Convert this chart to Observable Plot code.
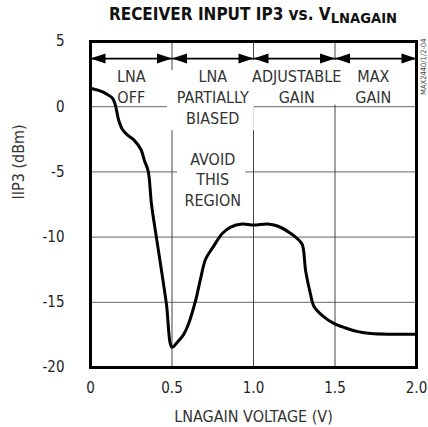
<!DOCTYPE html>
<html>
<head>
<meta charset="utf-8">
<script src="https://cdn.jsdelivr.net/npm/d3@7"></script>
<script src="https://cdn.jsdelivr.net/npm/@observablehq/plot@0.6"></script>
<style>
  html, body { margin: 0; padding: 0; background: white; }
  #wrap { width: 428px; height: 427px; position: relative; overflow: hidden; }
  #title {
    box-sizing: border-box; width: 428px; height: 28px;
    padding: 4px 12px 0 90px; text-align: center; white-space: nowrap;
    font-family: "Liberation Sans Narrow", "Arial Narrow", "DejaVu Sans Condensed", sans-serif;
    font-weight: bold; font-size: 17px; line-height: 20px; color: #111;
  }
  #title .sub { font-size: 0.86em; position: relative; top: 3px; }
  svg { display: block; }
</style>
</head>
<body>
<div id="wrap">
  <div id="title">RECEIVER INPUT IP3 vs. V<span class="sub">LNAGAIN</span></div>
  <div id="chart"></div>
</div>
<script>
// ---- data ----
const voltage = [0, 0.05, 0.095, 0.135, 0.153, 0.172, 0.196, 0.23, 0.27, 0.31, 0.33, 0.354, 0.374, 0.405, 0.436, 0.466, 0.50,
  0.53, 0.57, 0.60, 0.644, 0.675, 0.706, 0.75, 0.81, 0.86, 0.93, 1.0, 1.086, 1.147, 1.227, 1.276, 1.30, 1.32, 1.35, 1.37,
  1.43, 1.49, 1.56, 1.64, 1.72, 1.85, 2.0];
const iip3 = [1.42, 1.25, 1.0, 0.65, 0.1, -1.0, -1.75, -2.2, -2.6, -3.3, -4.1, -4.95, -7.46, -10.08, -12.6, -15.15, -18.45,
  -18.1, -17.5, -16.7, -14.9, -13.2, -11.7, -10.8, -9.7, -9.23, -9.0, -9.08, -9.0, -9.15, -9.7, -10.2, -10.6, -12.6, -14.4, -15.3,
  -16.1, -16.6, -16.95, -17.25, -17.4, -17.45, -17.45];

const xTicks = [0, 0.5, 1.0, 1.5, 2.0];
const xTickLabels = ["0", "0.5", "1.0", "1.5", "2.0"];
const yTicks = [-20, -15, -10, -5, 0, 5];
const yTickLabels = ["-20", "-15", "-10", "-5", "0", "5"];
const hGrid = [-15, -10, -5, 0];
const vGrid = [0.5, 1.0, 1.5];

const regionBounds = [0, 0.5, 1.0, 1.5, 2.0];
const arrowLevel = 3.69;

const regionLabels = ["LNA\nOFF", "LNA\nPARTIALLY\nBIASED", "ADJUSTABLE\nGAIN", "MAX\nGAIN", "AVOID\nTHIS\nREGION"];
const regionLabelX = [0.25, 0.75, 1.265, 1.735, 0.75];
const regionLabelY = [3.0, 3.0, 3.0, 3.0, -3.31];

const maskX1 = [0.472, 1.0, 0.534];
const maskX2 = [1.005, 1.62, 0.951];
const maskY1 = [2.77, 3.54, -3.2];
const maskY2 = [-1.85, 0.12, -6.9];

const xLabel = "LNAGAIN VOLTAGE (V)";
const yLabel = "IIP3 (dBm)";
const docCode = "MAX2440/1/2-04";

// ---- derived tables ----
const curveData = voltage.map((v, i) => ({v, p: iip3[i]}));
const segs = regionBounds.slice(0, -1).map((b, i) => ({a: b, b: regionBounds[i + 1], y: arrowLevel}));
const labels = regionLabels.map((t, i) => ({t, x: regionLabelX[i], y: regionLabelY[i]}));
const masks = maskX1.map((x1, i) => ({x1, x2: maskX2[i], y1: maskY1[i], y2: maskY2[i]}));

const headRight = { draw(ctx) { ctx.moveTo(0, 0); ctx.lineTo(-15, -5); ctx.lineTo(-15, 5); ctx.closePath(); } };
const headLeft = { draw(ctx) { ctx.moveTo(0, 0); ctx.lineTo(15, -5); ctx.lineTo(15, 5); ctx.closePath(); } };

const FONT = '"Liberation Sans Narrow", "Arial Narrow", "DejaVu Sans Condensed", sans-serif';

const chart = Plot.plot({
  width: 428,
  height: 399,
  marginTop: 13,
  marginBottom: 60,
  marginLeft: 90,
  marginRight: 12,
  style: {fontFamily: FONT, fontSize: "15px", color: "#222", background: "white"},
  x: {domain: [0, 2], ticks: xTicks, tickFormat: d => xTickLabels[xTicks.indexOf(d)], tickSize: 0, tickPadding: 15, label: null},
  y: {domain: [-20, 5], ticks: yTicks, tickFormat: d => yTickLabels[yTicks.indexOf(d)], tickSize: 0, tickPadding: 26, label: null},
  marks: [
    Plot.ruleY(hGrid, {stroke: "#666", strokeWidth: 1}),
    Plot.ruleX(vGrid, {stroke: "#444", strokeWidth: 1}),
    Plot.rect(masks, {x1: "x1", x2: "x2", y1: "y1", y2: "y2", fill: "white"}),
    Plot.line(curveData, {x: "v", y: "p", stroke: "black", strokeWidth: 3, curve: "catmull-rom"}),
    Plot.link(segs, {x1: "a", x2: "b", y1: "y", y2: "y", stroke: "black", strokeWidth: 1.6}),
    Plot.dot(segs, {x: "b", y: "y", symbol: headRight, fill: "black"}),
    Plot.dot(segs, {x: "a", y: "y", symbol: headLeft, fill: "black"}),
    Plot.text(labels, {x: "x", y: "y", text: "t", lineAnchor: "top", lineHeight: 1.3, fontSize: 16, fill: "#333"}),
    Plot.frame({stroke: "black", strokeWidth: 3}),
    Plot.text([xLabel], {frameAnchor: "bottom", dy: 43, lineAnchor: "top", fontSize: 16, fill: "#333"}),
    Plot.text([yLabel], {frameAnchor: "left", dx: -72, dy: -5, rotate: -90, fontSize: 16, fill: "#333"}),
    Plot.text([docCode], {frameAnchor: "top-right", dx: 4.5, dy: -3, rotate: -90, textAnchor: "end", fontSize: 7.5, fill: "#444"})
  ]
});
document.getElementById("chart").appendChild(chart);
</script>
</body>
</html>
